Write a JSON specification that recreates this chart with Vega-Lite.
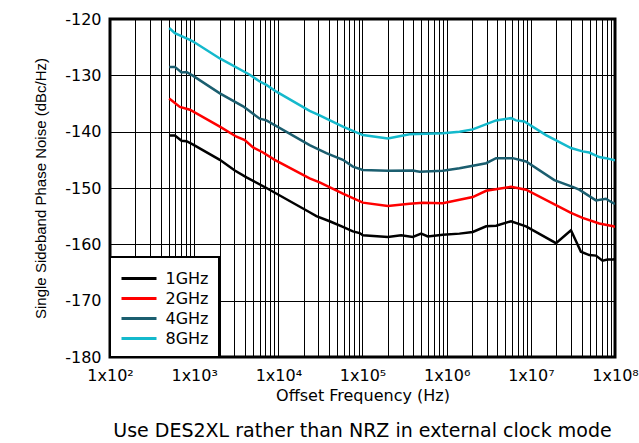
{
  "$schema": "https://vega.github.io/schema/vega-lite/v6.json",
  "autosize": "none",
  "width": 505,
  "height": 338,
  "padding": {"left": 110, "top": 19, "right": 24, "bottom": 86},
  "background": "white",
  "config": {
    "font": "DejaVu Sans",
    "view": {"stroke": "black", "strokeWidth": 3},
    "axis": {"labelFont": "DejaVu Sans", "titleFont": "DejaVu Sans", "labelColor": "black", "titleColor": "black", "titleFontWeight": "normal", "grid": true, "gridColor": "black", "gridOpacity": 1, "gridWidth": 1, "ticks": false, "domain": false}
  },
  "title": {"text": "Use DES2XL rather than NRZ in external clock mode", "orient": "bottom", "anchor": "middle", "fontSize": 19, "fontWeight": "normal", "font": "DejaVu Sans", "color": "black", "offset": 19},
  "data": {"values": [
    {"s":"8GHz","f":505,"v":-121.6},{"s":"8GHz","f":590,"v":-122.5},{"s":"8GHz","f":890,"v":-123.7},{"s":"8GHz","f":973,"v":-124.0},{"s":"8GHz","f":2018,"v":-127.0},{"s":"8GHz","f":4579,"v":-129.9},{"s":"8GHz","f":6012,"v":-131.1},{"s":"8GHz","f":7224,"v":-131.7},{"s":"8GHz","f":9490,"v":-132.9},{"s":"8GHz","f":23550,"v":-136.3},{"s":"8GHz","f":30970,"v":-137.1},{"s":"8GHz","f":58500,"v":-139.1},{"s":"8GHz","f":101000,"v":-140.6},{"s":"8GHz","f":200000,"v":-141.2},{"s":"8GHz","f":362000,"v":-140.45},{"s":"8GHz","f":899000,"v":-140.3},{"s":"8GHz","f":1420000,"v":-140.0},{"s":"8GHz","f":2042000,"v":-139.6},{"s":"8GHz","f":3866000,"v":-138.0},{"s":"8GHz","f":5821000,"v":-137.6},{"s":"8GHz","f":6668000,"v":-138.0},{"s":"8GHz","f":8374000,"v":-138.2},{"s":"8GHz","f":15140000,"v":-140.6},{"s":"8GHz","f":29990000,"v":-142.9},{"s":"8GHz","f":41170000,"v":-143.5},{"s":"8GHz","f":49430000,"v":-143.7},{"s":"8GHz","f":65000000,"v":-144.5},{"s":"8GHz","f":77960000,"v":-144.7},{"s":"8GHz","f":95300000,"v":-145.0},{"s":"8GHz","f":100000000,"v":-145.1},
    {"s":"4GHz","f":505,"v":-128.5},{"s":"4GHz","f":590,"v":-128.5},{"s":"4GHz","f":708,"v":-129.5},{"s":"4GHz","f":812,"v":-129.4},{"s":"4GHz","f":973,"v":-130.1},{"s":"4GHz","f":2018,"v":-133.2},{"s":"4GHz","f":3813,"v":-135.5},{"s":"4GHz","f":6012,"v":-137.7},{"s":"4GHz","f":7224,"v":-138.0},{"s":"4GHz","f":23550,"v":-142.4},{"s":"4GHz","f":37200,"v":-143.8},{"s":"4GHz","f":58500,"v":-145.0},{"s":"4GHz","f":76900,"v":-146.2},{"s":"4GHz","f":101000,"v":-146.8},{"s":"4GHz","f":200000,"v":-146.95},{"s":"4GHz","f":396000,"v":-146.9},{"s":"4GHz","f":476000,"v":-147.1},{"s":"4GHz","f":899000,"v":-146.95},{"s":"4GHz","f":1420000,"v":-146.5},{"s":"4GHz","f":2944000,"v":-145.6},{"s":"4GHz","f":3866000,"v":-144.7},{"s":"4GHz","f":6085000,"v":-144.7},{"s":"4GHz","f":8770000,"v":-145.3},{"s":"4GHz","f":19010000,"v":-148.6},{"s":"4GHz","f":31340000,"v":-149.8},{"s":"4GHz","f":37600000,"v":-150.3},{"s":"4GHz","f":59330000,"v":-152.2},{"s":"4GHz","f":77960000,"v":-151.9},{"s":"4GHz","f":95300000,"v":-152.7},{"s":"4GHz","f":100000000,"v":-152.8},
    {"s":"2GHz","f":505,"v":-134.1},{"s":"2GHz","f":676,"v":-135.6},{"s":"2GHz","f":890,"v":-136.1},{"s":"2GHz","f":2018,"v":-139.1},{"s":"2GHz","f":3185,"v":-140.9},{"s":"2GHz","f":3993,"v":-141.5},{"s":"2GHz","f":5012,"v":-142.8},{"s":"2GHz","f":6580,"v":-143.7},{"s":"2GHz","f":9060,"v":-145.0},{"s":"2GHz","f":23550,"v":-148.3},{"s":"2GHz","f":30970,"v":-149.0},{"s":"2GHz","f":58500,"v":-151.0},{"s":"2GHz","f":101000,"v":-152.6},{"s":"2GHz","f":200000,"v":-153.2},{"s":"2GHz","f":362000,"v":-152.8},{"s":"2GHz","f":521000,"v":-152.6},{"s":"2GHz","f":899000,"v":-152.7},{"s":"2GHz","f":1420000,"v":-152.1},{"s":"2GHz","f":2042000,"v":-151.6},{"s":"2GHz","f":2944000,"v":-150.5},{"s":"2GHz","f":5821000,"v":-149.8},{"s":"2GHz","f":8770000,"v":-150.3},{"s":"2GHz","f":29990000,"v":-154.4},{"s":"2GHz","f":41170000,"v":-155.3},{"s":"2GHz","f":65000000,"v":-156.3},{"s":"2GHz","f":95300000,"v":-156.8},{"s":"2GHz","f":100000000,"v":-156.9},
    {"s":"1GHz","f":505,"v":-140.7},{"s":"1GHz","f":590,"v":-140.7},{"s":"1GHz","f":708,"v":-141.6},{"s":"1GHz","f":812,"v":-141.7},{"s":"1GHz","f":973,"v":-142.3},{"s":"1GHz","f":2018,"v":-145.0},{"s":"1GHz","f":3040,"v":-146.9},{"s":"1GHz","f":4186,"v":-148.1},{"s":"1GHz","f":7224,"v":-150.0},{"s":"1GHz","f":23550,"v":-154.3},{"s":"1GHz","f":28300,"v":-155.0},{"s":"1GHz","f":40700,"v":-155.9},{"s":"1GHz","f":58500,"v":-156.9},{"s":"1GHz","f":76900,"v":-157.7},{"s":"1GHz","f":92400,"v":-158.0},{"s":"1GHz","f":101000,"v":-158.4},{"s":"1GHz","f":200000,"v":-158.7},{"s":"1GHz","f":288000,"v":-158.4},{"s":"1GHz","f":396000,"v":-158.7},{"s":"1GHz","f":498000,"v":-158.1},{"s":"1GHz","f":597000,"v":-158.6},{"s":"1GHz","f":899000,"v":-158.3},{"s":"1GHz","f":1420000,"v":-158.1},{"s":"1GHz","f":2042000,"v":-157.8},{"s":"1GHz","f":2944000,"v":-156.8},{"s":"1GHz","f":3866000,"v":-156.7},{"s":"1GHz","f":5821000,"v":-155.9},{"s":"1GHz","f":8770000,"v":-156.8},{"s":"1GHz","f":19910000,"v":-159.8},{"s":"1GHz","f":29990000,"v":-157.5},{"s":"1GHz","f":39360000,"v":-161.3},{"s":"1GHz","f":49430000,"v":-161.9},{"s":"1GHz","f":59330000,"v":-162.0},{"s":"1GHz","f":71140000,"v":-162.9},{"s":"1GHz","f":81470000,"v":-162.7},{"s":"1GHz","f":95300000,"v":-162.7},{"s":"1GHz","f":100000000,"v":-162.6}
  ]},
  "mark": {"type": "line", "strokeWidth": 2.5, "clip": true},
  "encoding": {
    "x": {"field": "f", "type": "quantitative", "scale": {"type": "log", "domain": [100, 100000000], "nice": false},
      "axis": {"title": "Offset Frequency (Hz)", "titleFontSize": 16, "titlePadding": 4, "labelFontSize": 16, "labelPadding": 10, "labelOverlap": false, "labelBound": false, "labelFlush": false,
        "values": [100,200,300,400,500,600,700,800,900,1000,2000,3000,4000,5000,6000,7000,8000,9000,10000,20000,30000,40000,50000,60000,70000,80000,90000,100000,200000,300000,400000,500000,600000,700000,800000,900000,1000000,2000000,3000000,4000000,5000000,6000000,7000000,8000000,9000000,10000000,20000000,30000000,40000000,50000000,60000000,70000000,80000000,90000000,100000000],
        "labelExpr": "abs(log(datum.value)/LN10 - round(log(datum.value)/LN10)) < 0.000001 ? '1x10' + substring('⁰¹²³⁴⁵⁶⁷⁸', round(log(datum.value)/LN10), round(log(datum.value)/LN10) + 1) : ''"}},
    "y": {"field": "v", "type": "quantitative", "scale": {"domain": [-180, -120], "nice": false},
      "axis": {"title": "Single Sideband Phase Noise (dBc/Hz)", "titleFont": "Liberation Sans", "titleFontSize": 15, "titlePadding": 16, "labelFontSize": 16, "labelPadding": 9, "values": [-180,-170,-160,-150,-140,-130,-120], "labelExpr": "datum.value + ''", "labelFlush": false}},
    "color": {"field": "s", "type": "nominal", "scale": {"domain": ["1GHz","2GHz","4GHz","8GHz"], "range": ["#000000","#ff0000","#1b5e6f","#14b9cc"]},
      "legend": {"title": null, "orient": "bottom-left", "offset": 0, "padding": 10, "fillColor": "white", "strokeColor": "black", "symbolType": "M-1.75,0H1.75", "symbolSize": 400, "symbolOffset": 7.5, "symbolStrokeWidth": 3, "labelFontSize": 16, "labelFont": "DejaVu Sans", "labelColor": "black", "labelOffset": 15, "rowPadding": 0,
        "encode": {"legend": {"update": {"strokeWidth": {"value": 2}}}}}}
  }
}
